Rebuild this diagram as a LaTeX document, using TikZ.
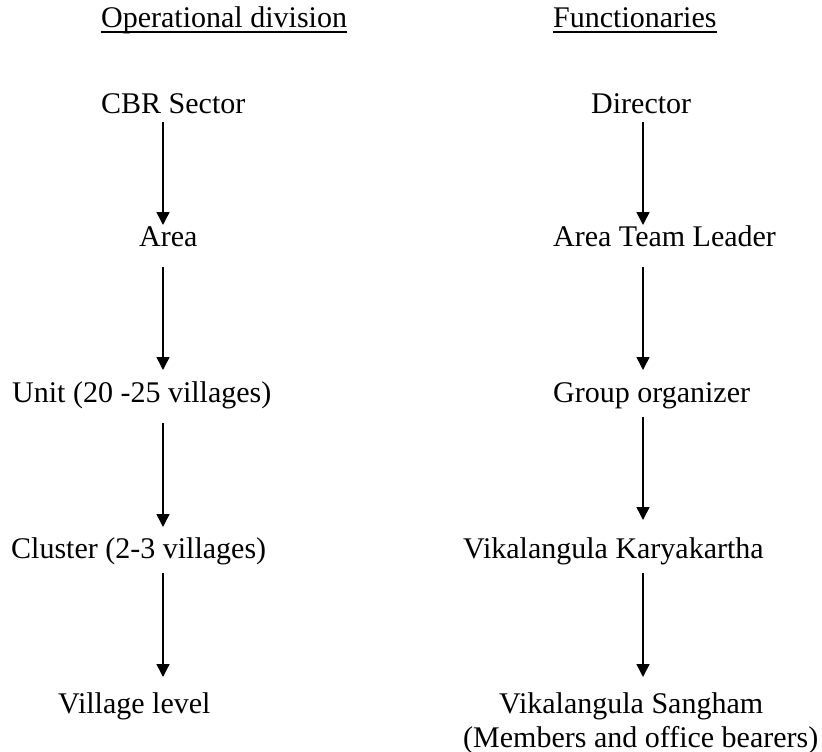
\documentclass[tikz,border=0pt]{standalone}
\usepackage{fontspec}
\setmainfont{Liberation Serif}
\usetikzlibrary{arrows.meta}
\begin{document}
\begin{tikzpicture}[x=1pt,y=-1pt,
  lbl/.style={anchor=base west,inner sep=0pt,font=\fontsize{30}{34}\selectfont},
  arr/.style={line width=1.5pt,-{Triangle[width=13pt,length=13pt]}},
  uline/.style={line width=1.8pt}]
\useasboundingbox (0,0) rectangle (822,752);
% column axes of the arrows
\coordinate (xL) at (163,0);
\coordinate (xR) at (643,0);
% headings
\node[lbl] (hL) at (101,28) {Operational division};
\node[lbl] (hR) at (553,28) {Functionaries};
\draw[uline] ([yshift=-4pt]hL.base west) -- ([yshift=-4pt]hL.base east);
\draw[uline] ([yshift=-4pt]hR.base west) -- ([yshift=-4pt]hR.base east);
% operational division
\node[lbl] (cbr) at (101,113) {CBR Sector};
\node[lbl] (area) at (139,246) {Area};
\node[lbl] (unit) at (12,402) {Unit (20 -25 villages)};
\node[lbl] (cluster) at (11,558) {Cluster (2-3 villages)};
\node[lbl] (village) at (58,713) {Village level};
% functionaries
\node[lbl] (dir) at (591,113) {Director};
\node[lbl] (atl) at (553,246) {Area Team Leader};
\node[lbl] (grp) at (553,402) {Group organizer};
\node[lbl] (vk) at (463,558) {Vikalangula Karyakartha};
\node[lbl] (vs) at (499,713) {Vikalangula Sangham};
\node[lbl] (vsm) at (463,747) {(Members and office bearers)};
% left arrows
\draw[arr] ([yshift=-9pt]cbr.base -| xL) -- ([yshift=21pt]area.base -| xL);
\draw[arr] ([yshift=-21pt]area.base -| xL) -- ([yshift=32pt]unit.base -| xL);
\draw[arr] ([yshift=-21pt]unit.base -| xL) -- ([yshift=31pt]cluster.base -| xL);
\draw[arr] ([yshift=-15pt]cluster.base -| xL) -- ([yshift=36pt]village.base -| xL);
% right arrows
\draw[arr] ([yshift=-9pt]dir.base -| xR) -- ([yshift=21pt]atl.base -| xR);
\draw[arr] ([yshift=-21pt]atl.base -| xR) -- ([yshift=32pt]grp.base -| xR);
\draw[arr] ([yshift=-15pt]grp.base -| xR) -- ([yshift=38pt]vk.base -| xR);
\draw[arr] ([yshift=-15pt]vk.base -| xR) -- ([yshift=36pt]vs.base -| xR);
\end{tikzpicture}
\end{document}
